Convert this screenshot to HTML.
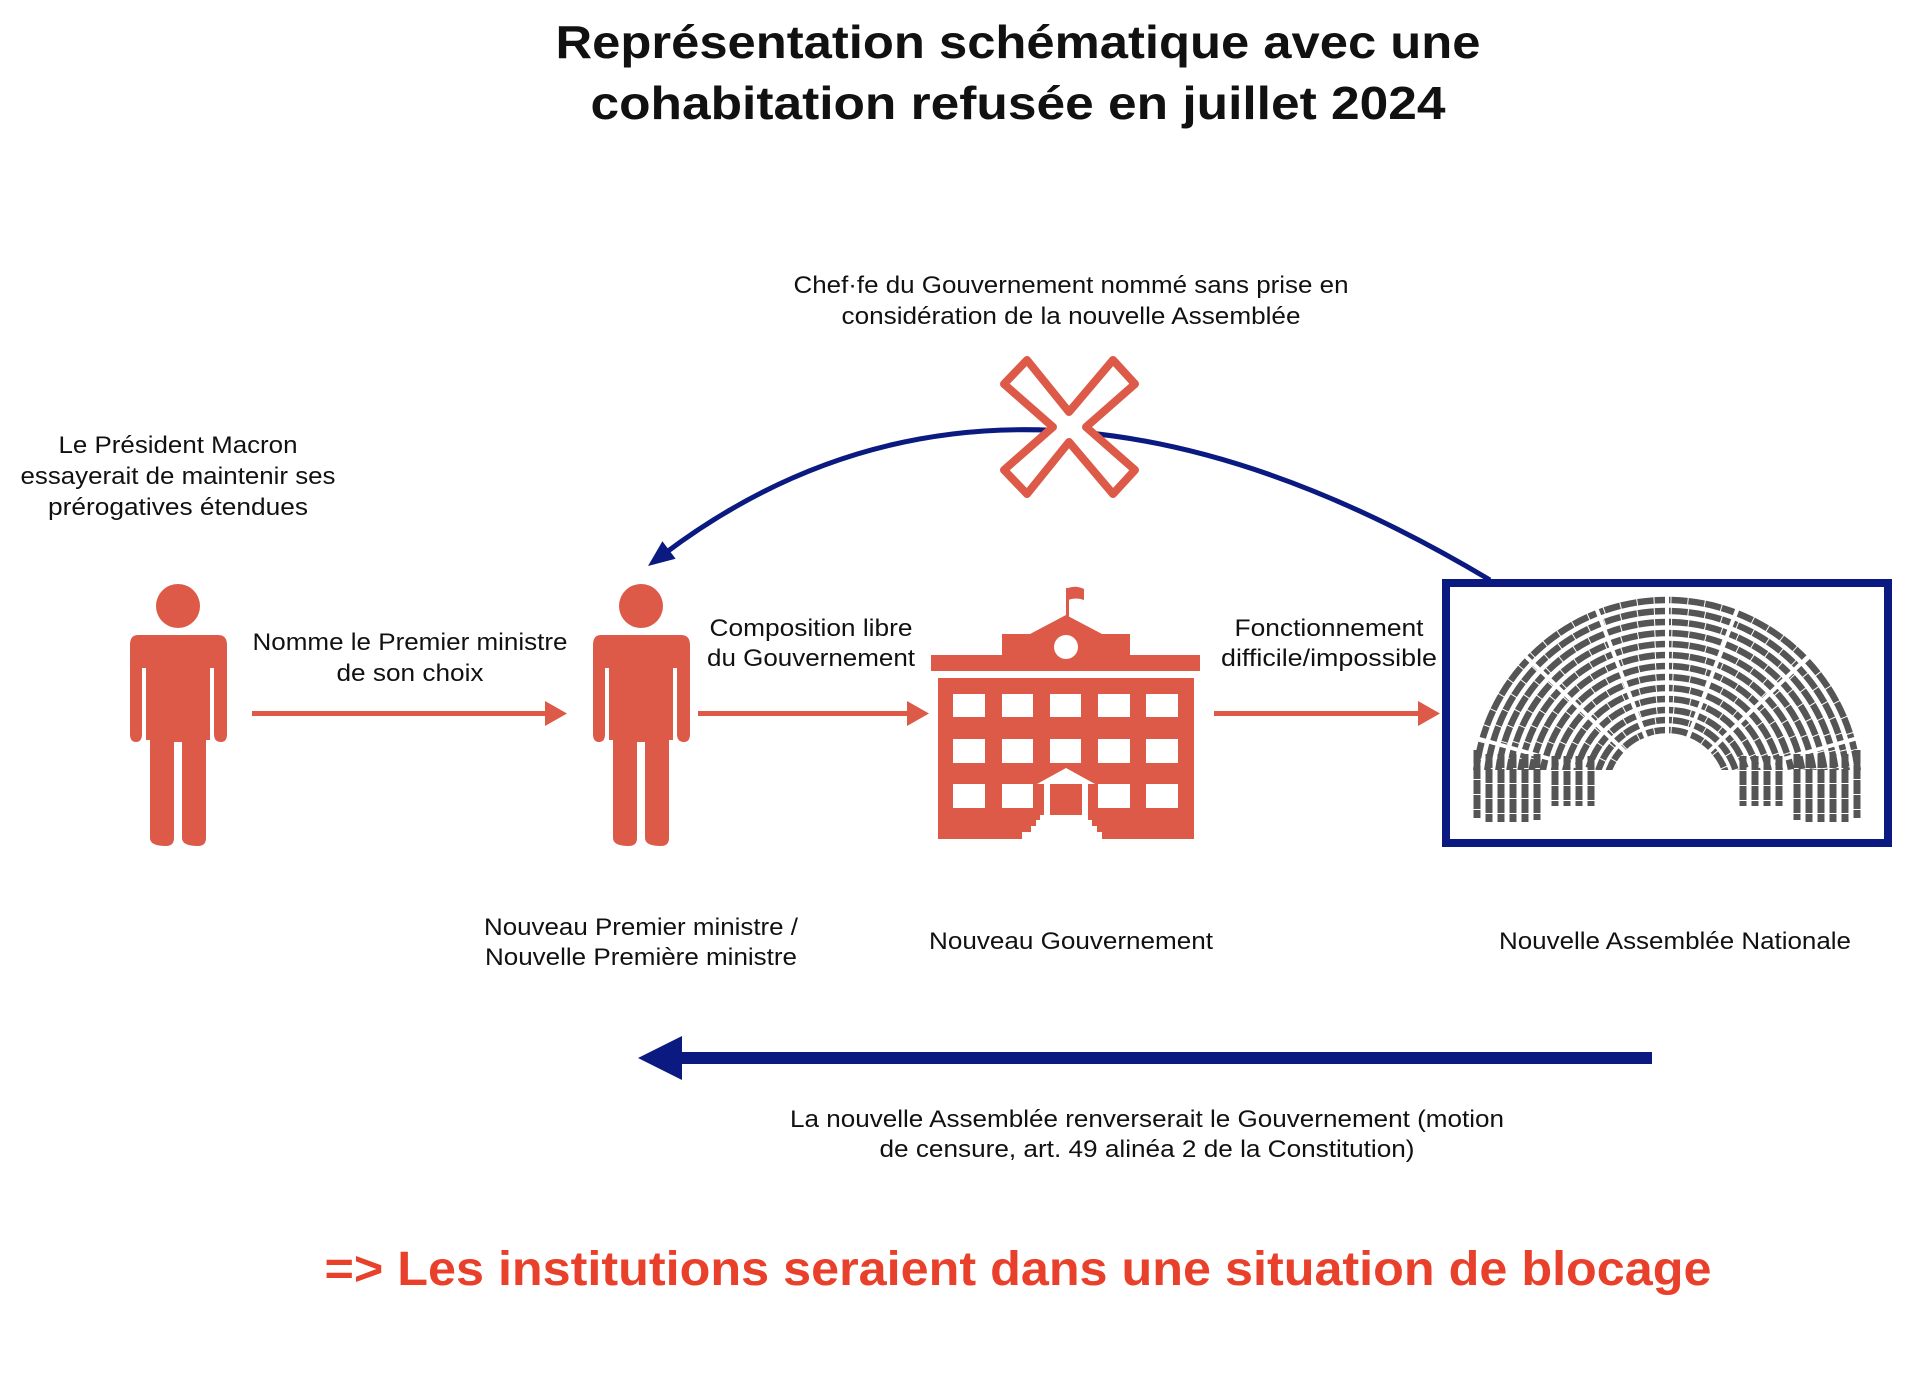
<!DOCTYPE html>
<html><head><meta charset="utf-8"><style>
html,body{margin:0;padding:0;background:#fff;}
svg{display:block;}
text{font-family:"Liberation Sans",sans-serif;fill:#111;}
</style></head><body>
<svg width="1920" height="1374" viewBox="0 0 1920 1374" xmlns="http://www.w3.org/2000/svg">
<rect width="1920" height="1374" fill="#fff"/>
<text x="1018" y="58" font-size="46" font-weight="bold" text-anchor="middle" textLength="925" lengthAdjust="spacingAndGlyphs">Représentation schématique avec une</text>
<text x="1018" y="119" font-size="46" font-weight="bold" text-anchor="middle" textLength="855" lengthAdjust="spacingAndGlyphs">cohabitation refusée en juillet 2024</text>

<text x="1071" y="293" font-size="24" text-anchor="middle" textLength="555" lengthAdjust="spacingAndGlyphs">Chef·fe du Gouvernement nommé sans prise en</text>
<text x="1071" y="324" font-size="24" text-anchor="middle" textLength="459" lengthAdjust="spacingAndGlyphs">considération de la nouvelle Assemblée</text>

<text x="178" y="453" font-size="24" text-anchor="middle" textLength="239" lengthAdjust="spacingAndGlyphs">Le Président Macron</text>
<text x="178" y="484" font-size="24" text-anchor="middle" textLength="315" lengthAdjust="spacingAndGlyphs">essayerait de maintenir ses</text>
<text x="178" y="515" font-size="24" text-anchor="middle" textLength="260" lengthAdjust="spacingAndGlyphs">prérogatives étendues</text>

<path d="M1490,580 Q1010,293 664,554" fill="none" stroke="#0a1a80" stroke-width="5"/>
<polygon points="648,566 675.6,558.8 662.4,541.2" fill="#0a1a80"/>

<g transform="translate(1069,427)">
<polygon points="-65,-43 -42,-67 0,-15 44,-67 66,-43 17,0 66,43 44,67 0,15 -42,67 -65,43 -16,0" fill="#fff" stroke="#dc5a47" stroke-width="8" stroke-linejoin="round"/>
</g>

<g fill="#dc5a47">
<circle cx="178" cy="606" r="22"/>
<path d="M138,635 H218 Q227,635 227,645 V734 Q227,742 221,742 Q214,742 214,734 V668 H210 V740 H206 V838 Q206,846 198,846 Q182,846 182,838 V742 H174 V838 Q174,846 166,846 Q150,846 150,838 V740 H146 V668 H142 V734 Q142,742 136,742 Q130,742 130,734 V645 Q130,635 138,635 Z"/>
</g>
<g fill="#dc5a47" transform="translate(463,0)">
<circle cx="178" cy="606" r="22"/>
<path d="M138,635 H218 Q227,635 227,645 V734 Q227,742 221,742 Q214,742 214,734 V668 H210 V740 H206 V838 Q206,846 198,846 Q182,846 182,838 V742 H174 V838 Q174,846 166,846 Q150,846 150,838 V740 H146 V668 H142 V734 Q142,742 136,742 Q130,742 130,734 V645 Q130,635 138,635 Z"/>
</g>

<g fill="#dc5a47">
<rect x="252" y="711" width="296" height="5"/>
<polygon points="567,713.5 545,701 545,726"/>
<rect x="698" y="711" width="212" height="5"/>
<polygon points="929,713.5 907,701 907,726"/>
<rect x="1214" y="711" width="206" height="5"/>
<polygon points="1440,713.5 1418,701 1418,726"/>
</g>

<text x="410" y="650" font-size="24" text-anchor="middle" textLength="315" lengthAdjust="spacingAndGlyphs">Nomme le Premier ministre</text>
<text x="410" y="681" font-size="24" text-anchor="middle" textLength="147" lengthAdjust="spacingAndGlyphs">de son choix</text>
<text x="811" y="636" font-size="24" text-anchor="middle" textLength="203" lengthAdjust="spacingAndGlyphs">Composition libre</text>
<text x="811" y="666" font-size="24" text-anchor="middle" textLength="208" lengthAdjust="spacingAndGlyphs">du Gouvernement</text>
<text x="1329" y="636" font-size="24" text-anchor="middle" textLength="189" lengthAdjust="spacingAndGlyphs">Fonctionnement</text>
<text x="1329" y="666" font-size="24" text-anchor="middle" textLength="216" lengthAdjust="spacingAndGlyphs">difficile/impossible</text>

<g fill="#dc5a47">
<rect x="1066" y="588" width="3" height="30"/>
<path d="M1068,588 Q1076,585 1084,589 V600 Q1076,597 1068,600 Z"/>
<polygon points="1030,634 1066,615 1102,634"/>
<rect x="1002" y="634" width="128" height="24"/>
<rect x="931" y="655" width="269" height="16"/>
<rect x="938" y="678" width="256" height="161"/>
</g>
<circle cx="1066" cy="647" r="12" fill="#fff"/>
<g fill="#fff">
<rect x="953" y="694" width="32" height="23"/><rect x="1002" y="694" width="31" height="23"/><rect x="1050" y="694" width="31" height="23"/><rect x="1098" y="694" width="32" height="23"/><rect x="1146" y="694" width="32" height="23"/>
<rect x="953" y="739" width="32" height="24"/><rect x="1002" y="739" width="31" height="24"/><rect x="1050" y="739" width="31" height="24"/><rect x="1098" y="739" width="32" height="24"/><rect x="1146" y="739" width="32" height="24"/>
<rect x="953" y="784" width="32" height="24"/><rect x="1002" y="784" width="31" height="24"/><rect x="1098" y="784" width="32" height="24"/><rect x="1146" y="784" width="32" height="24"/>
<polygon points="1037,784 1066,768 1095,784"/>
<rect x="1044" y="784" width="6" height="32"/><rect x="1082" y="784" width="6" height="32"/>
<polygon points="1044,815 1088,815 1088,820 1092,820 1092,826 1097,826 1097,832 1102,832 1102,839 1022,839 1022,832 1031,832 1031,826 1036,826 1036,820 1040,820 1040,815"/>
</g>

<rect x="1446" y="583" width="442" height="260" fill="#fff" stroke="#0a1a80" stroke-width="8"/>
<g transform="translate(1667,792)" fill="none" stroke="#555">
<g stroke-width="6.5" stroke-dasharray="16 1">
<path d="M-192,0 A192,192 0 0 1 192,0"/>
<path d="M-181,0 A181,181 0 0 1 181,0"/>
<path d="M-170,0 A170,170 0 0 1 170,0"/>
<path d="M-159,0 A159,159 0 0 1 159,0"/>
<path d="M-148,0 A148,148 0 0 1 148,0"/>
<path d="M-137,0 A137,137 0 0 1 137,0"/>
<path d="M-126,0 A126,126 0 0 1 126,0"/>
<path d="M-115,0 A115,115 0 0 1 115,0"/>
<path d="M-104,0 A104,104 0 0 1 104,0"/>
<path d="M-93,0 A93,93 0 0 1 93,0"/>
<path d="M-82,0 A82,82 0 0 1 82,0"/>
<path d="M-72,0 A72,72 0 0 1 72,0"/>
<path d="M-62,0 A62,62 0 0 1 62,0"/>
</g>
<g stroke="#fff" stroke-width="4">
<line x1="0" y1="0" x2="0" y2="-205"/>
<line x1="0" y1="0" x2="-75" y2="-195"/><line x1="0" y1="0" x2="75" y2="-195"/>
<line x1="0" y1="0" x2="-148" y2="-142"/><line x1="0" y1="0" x2="148" y2="-142"/>
<line x1="0" y1="0" x2="-198" y2="-56"/><line x1="0" y1="0" x2="198" y2="-56"/>
<rect x="-205" y="-22" width="410" height="42" fill="#fff" stroke="none"/>
</g>
<g stroke-width="7" stroke-dasharray="14 1">
<line x1="-190" y1="-42" x2="-190" y2="26"/><line x1="-178" y1="-38" x2="-178" y2="30"/><line x1="-166" y1="-38" x2="-166" y2="30"/><line x1="-154" y1="-38" x2="-154" y2="30"/><line x1="-142" y1="-38" x2="-142" y2="30"/><line x1="-130" y1="-38" x2="-130" y2="28"/>
<line x1="-112" y1="-36" x2="-112" y2="14"/><line x1="-100" y1="-36" x2="-100" y2="14"/><line x1="-88" y1="-36" x2="-88" y2="14"/><line x1="-76" y1="-36" x2="-76" y2="14"/>
<line x1="190" y1="-42" x2="190" y2="26"/><line x1="178" y1="-38" x2="178" y2="30"/><line x1="166" y1="-38" x2="166" y2="30"/><line x1="154" y1="-38" x2="154" y2="30"/><line x1="142" y1="-38" x2="142" y2="30"/><line x1="130" y1="-38" x2="130" y2="28"/>
<line x1="112" y1="-36" x2="112" y2="14"/><line x1="100" y1="-36" x2="100" y2="14"/><line x1="88" y1="-36" x2="88" y2="14"/><line x1="76" y1="-36" x2="76" y2="14"/>
</g>
</g>

<text x="641" y="935" font-size="24" text-anchor="middle" textLength="314" lengthAdjust="spacingAndGlyphs">Nouveau Premier ministre /</text>
<text x="641" y="965" font-size="24" text-anchor="middle" textLength="312" lengthAdjust="spacingAndGlyphs">Nouvelle Première ministre</text>
<text x="1071" y="949" font-size="24" text-anchor="middle" textLength="284" lengthAdjust="spacingAndGlyphs">Nouveau Gouvernement</text>
<text x="1675" y="949" font-size="24" text-anchor="middle" textLength="352" lengthAdjust="spacingAndGlyphs">Nouvelle Assemblée Nationale</text>

<rect x="680" y="1052" width="972" height="12" fill="#0a1a80"/>
<polygon points="638,1058 682,1036 682,1080" fill="#0a1a80"/>
<text x="1147" y="1127" font-size="24" text-anchor="middle" textLength="714" lengthAdjust="spacingAndGlyphs">La nouvelle Assemblée renverserait le Gouvernement (motion</text>
<text x="1147" y="1157" font-size="24" text-anchor="middle" textLength="535" lengthAdjust="spacingAndGlyphs">de censure, art. 49 alinéa 2 de la Constitution)</text>

<text x="1018" y="1285" font-size="48" font-weight="bold" text-anchor="middle" style="fill:#e8402a" textLength="1387" lengthAdjust="spacingAndGlyphs">=&gt; Les institutions seraient dans une situation de blocage</text>
</svg>
</body></html>
